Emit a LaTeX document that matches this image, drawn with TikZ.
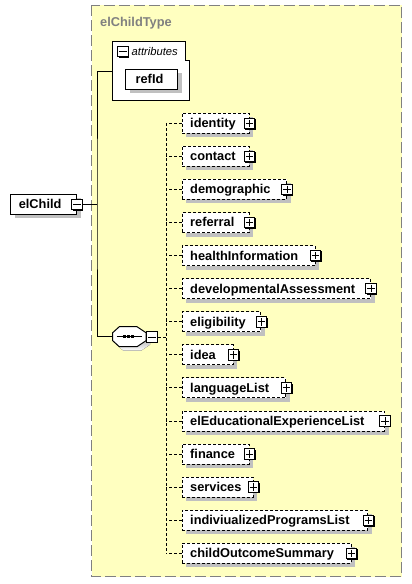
\documentclass[tikz,border=0pt]{standalone}
\usepackage{fontspec}
\setmainfont{Liberation Sans}
\usetikzlibrary{positioning,shadows}
\definecolor{typebg}{RGB}{255,255,192}
\definecolor{typeborder}{RGB}{128,128,128}
\definecolor{shade}{RGB}{192,192,192}
\tikzset{
  elem/.style={draw,fill=white,line width=1pt,minimum height=20pt,inner xsep=8pt,inner ysep=0pt,
    text height=10pt,text depth=1.2pt,align=left,font=\bfseries\fontsize{12.8}{14}\selectfont,
    drop shadow={shadow xshift=4pt,shadow yshift=-4pt,fill=shade,opacity=1}},
  optelem/.style={elem,dash pattern=on 3pt off 2pt},
  expbox/.style={draw,fill=white,line width=1pt,minimum size=10.5pt,inner sep=0pt,
    drop shadow={shadow xshift=1pt,shadow yshift=-1pt,fill=black,opacity=1}},
  link/.style={line width=1pt},
  optlink/.style={line width=1pt,dash pattern=on 3pt off 2pt},
  typeframe/.style={draw=typeborder,fill=typebg,line width=1.2pt,dash pattern=on 11pt off 4pt}
}
\begin{document}
\begin{tikzpicture}[x=1pt,y=-1pt]
\useasboundingbox (0,0) rectangle (412,584);
% complex type
\draw[typeframe] (91.7,5.3) rectangle (401.7,576.7);
\node[anchor=base west,inner sep=0pt,text=typeborder,font=\bfseries\fontsize{12.8}{14}\selectfont] (tname) at (100,26) {elChildType};
% attributes group
\draw[link,fill=white] (112.7,41.7) -- (185,41.7) -- (185,60.5) -- (189.3,60.5) -- (189.3,100) -- (112.7,100) -- cycle;
\node[expbox] (attrminus) at (122.8,51.7) {};
\draw[link] ([xshift=2pt]attrminus.west) -- ([xshift=-2pt]attrminus.east);
\node[anchor=west,inner sep=0pt,font=\itshape\fontsize{11.2}{13}\selectfont] (attrlabel) at (131.5,51.5) {attributes};
\node[elem,inner xsep=9.7pt,text width=32.3pt] (refid) at (151.8,79.2) {refId};
\coordinate (attr) at (112.7,71);
% root element
\node[elem,anchor=west,text width=49.7pt] (elchild) at (10.3,204.3) {elChild};
\node[expbox] (elminus) at (elchild.east) {};
\draw[link] ([xshift=2pt]elminus.west) -- ([xshift=-2pt]elminus.east);
\coordinate (j) at (97,204.3);
\draw[link] (elminus.east) -- (j);
% sequence
\fill[shade,xshift=4pt,yshift=-4pt] (112.7,332.7) -- (119.3,326.7) -- (137,326.7) -- (146,332.7) -- (146,340.7) -- (137,346.7) -- (119.3,346.7) -- (112.7,340.7) -- cycle;
\draw[link,fill=white] (112.7,332.7) -- (119.3,326.7) -- (137,326.7) -- (146,332.7) -- (146,340.7) -- (137,346.7) -- (119.3,346.7) -- (112.7,340.7) -- cycle;
\coordinate (seq) at (112.7,336.7);
\draw[link] (116.7,336.7) -- (141.7,336.7);
\foreach \x in {124.5,128.5,132.5}
  \fill (\x-1.5,335.2) rectangle +(3,3);
\node[expbox] (seqminus) at (152,337.2) {};
\draw[link] ([xshift=2pt]seqminus.west) -- ([xshift=-2pt]seqminus.east);
\draw[link] (attr) -| (j) |- (seq);
% children
\coordinate (bustop) at (166,123.3);
\coordinate (busbot) at (166,553.3);
\draw[optlink] (bustop) -- (busbot);
\draw[optlink] (seqminus.east) -- (seqminus.east -| bustop);
\foreach \lbl/\tw [count=\i] in {identity/51,contact/51,demographic/88.3,referral/51,healthInformation/117,developmentalAssessment/172.3,eligibility/62.6,idea/35,languageList/87.6,elEducationalExperienceList/186.3,finance/51,services/55,indiviualizedProgramsList/169.6,childOutcomeSummary/153}{
  \node[optelem,anchor=west,text width=\tw pt] (c\i) at (181.7,{123.3+33.08*(\i-1)}) {\lbl};
  \node[expbox] (p\i) at (c\i.east) {};
  \draw[link] ([xshift=2pt]p\i.west) -- ([xshift=-2pt]p\i.east);
  \draw[link] ([yshift=-2pt]p\i.north) -- ([yshift=2pt]p\i.south);
  \draw[optlink] (c\i.west) -- (c\i.west -| bustop);
}
\end{tikzpicture}
\end{document}
